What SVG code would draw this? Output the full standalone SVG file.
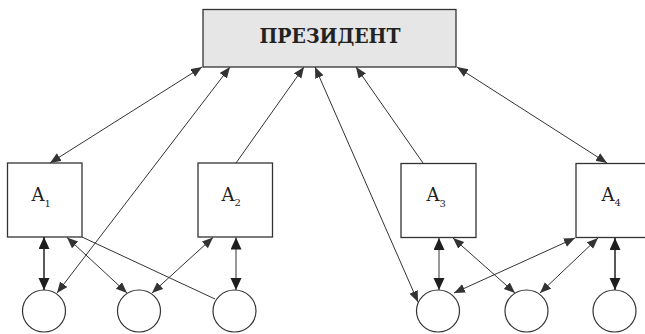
<svg xmlns="http://www.w3.org/2000/svg" width="645" height="334" viewBox="0 0 645 334">
<style>
.box{fill:#ffffff;stroke:#333333;stroke-width:1.3}
.pres{fill:#e6e6e6;stroke:#333333;stroke-width:1.3}
.circ{fill:#ffffff;stroke:#333333;stroke-width:1.2}
.ln{stroke:#333333;stroke-width:1;fill:none}
.vt{stroke:#222222;stroke-width:1.5;fill:none}
.lbl{font-family:"DejaVu Serif","Liberation Serif",serif;fill:#222222}
</style>
<defs>
<marker id="ah" markerUnits="userSpaceOnUse" markerWidth="12" markerHeight="10" refX="11" refY="4.5" orient="auto-start-reverse">
<path d="M0,0 L11,4.5 L0,9 z" fill="#333333"/>
</marker>
<marker id="ahd" markerUnits="userSpaceOnUse" markerWidth="13" markerHeight="12" refX="12" refY="5.5" orient="auto-start-reverse">
<path d="M0,0 L12,5.5 L0,11 z" fill="#1e1e1e"/>
</marker>
</defs>
<rect width="645" height="334" fill="#ffffff"/>
<g id="president">
<rect class="pres" x="203" y="9.5" width="253" height="57.5"/>
<text class="lbl" x="330" y="43.3" font-size="20" font-weight="bold" text-anchor="middle" textLength="141" lengthAdjust="spacingAndGlyphs">ПРЕЗИДЕНТ</text>
</g>
<g id="A1">
<rect class="box" x="7.5" y="163" width="74.5" height="74"/>
<text class="lbl" x="31.5" y="201" font-size="18">A<tspan font-size="10" dy="5.5">1</tspan></text>
</g>
<g id="A2">
<rect class="box" x="198" y="163" width="74.5" height="74"/>
<text class="lbl" x="221.5" y="200.5" font-size="18">A<tspan font-size="10" dy="5.5">2</tspan></text>
</g>
<g id="A3">
<rect class="box" x="401" y="163.5" width="75" height="74"/>
<text class="lbl" x="426.5" y="201" font-size="18">A<tspan font-size="10" dy="5.5">3</tspan></text>
</g>
<g id="A4">
<rect class="box" x="576" y="163.5" width="75" height="74"/>
<text class="lbl" x="601.5" y="200.5" font-size="18">A<tspan font-size="10" dy="5.5">4</tspan></text>
</g>
<g id="c1n"><ellipse class="circ" cx="44" cy="311" rx="21.5" ry="21"/></g>
<g id="c2n"><ellipse class="circ" cx="139" cy="311" rx="21.5" ry="21"/></g>
<g id="c3n"><ellipse class="circ" cx="234.5" cy="311" rx="21.5" ry="21"/></g>
<g id="c4n"><ellipse class="circ" cx="438" cy="311" rx="21.5" ry="21"/></g>
<g id="c5n"><ellipse class="circ" cx="526.5" cy="311" rx="21.5" ry="21"/></g>
<g id="c6n"><ellipse class="circ" cx="614.5" cy="311" rx="21.5" ry="21"/></g>
<g id="connectors">
<line class="ln" x1="50" y1="163" x2="202" y2="67" marker-start="url(#ah)" marker-end="url(#ah)"/>
<line class="ln" x1="57" y1="293" x2="230" y2="67" marker-start="url(#ah)" marker-end="url(#ah)"/>
<line class="ln" x1="236" y1="163" x2="304" y2="67" marker-end="url(#ah)"/>
<line class="ln" x1="418" y1="302" x2="315" y2="67" marker-start="url(#ah)" marker-end="url(#ah)"/>
<line class="ln" x1="423" y1="163" x2="356" y2="67" marker-end="url(#ah)"/>
<line class="ln" x1="457" y1="67" x2="607" y2="163" marker-start="url(#ah)" marker-end="url(#ah)"/>
<line class="vt" x1="44" y1="237" x2="44" y2="290" marker-start="url(#ahd)" marker-end="url(#ahd)"/>
<line class="ln" x1="67" y1="237.5" x2="127" y2="293" marker-start="url(#ah)" marker-end="url(#ah)"/>
<line class="ln" x1="82" y1="237" x2="215" y2="299"/>
<line class="ln" x1="213" y1="237.5" x2="152" y2="293" marker-start="url(#ah)" marker-end="url(#ah)"/>
<line class="ln" x1="236" y1="237.5" x2="236" y2="290" marker-start="url(#ahd)" marker-end="url(#ahd)"/>
<line class="ln" x1="439" y1="238" x2="439" y2="290" marker-start="url(#ahd)" marker-end="url(#ahd)"/>
<line class="ln" x1="453" y1="238" x2="515" y2="293" marker-start="url(#ah)" marker-end="url(#ah)"/>
<line class="ln" x1="575" y1="238" x2="454" y2="293" marker-start="url(#ah)" marker-end="url(#ah)"/>
<line class="ln" x1="598" y1="238" x2="540" y2="293" marker-start="url(#ah)" marker-end="url(#ah)"/>
<line class="vt" x1="615" y1="238" x2="615" y2="290" marker-start="url(#ahd)" marker-end="url(#ahd)"/>
</g>
</svg>
